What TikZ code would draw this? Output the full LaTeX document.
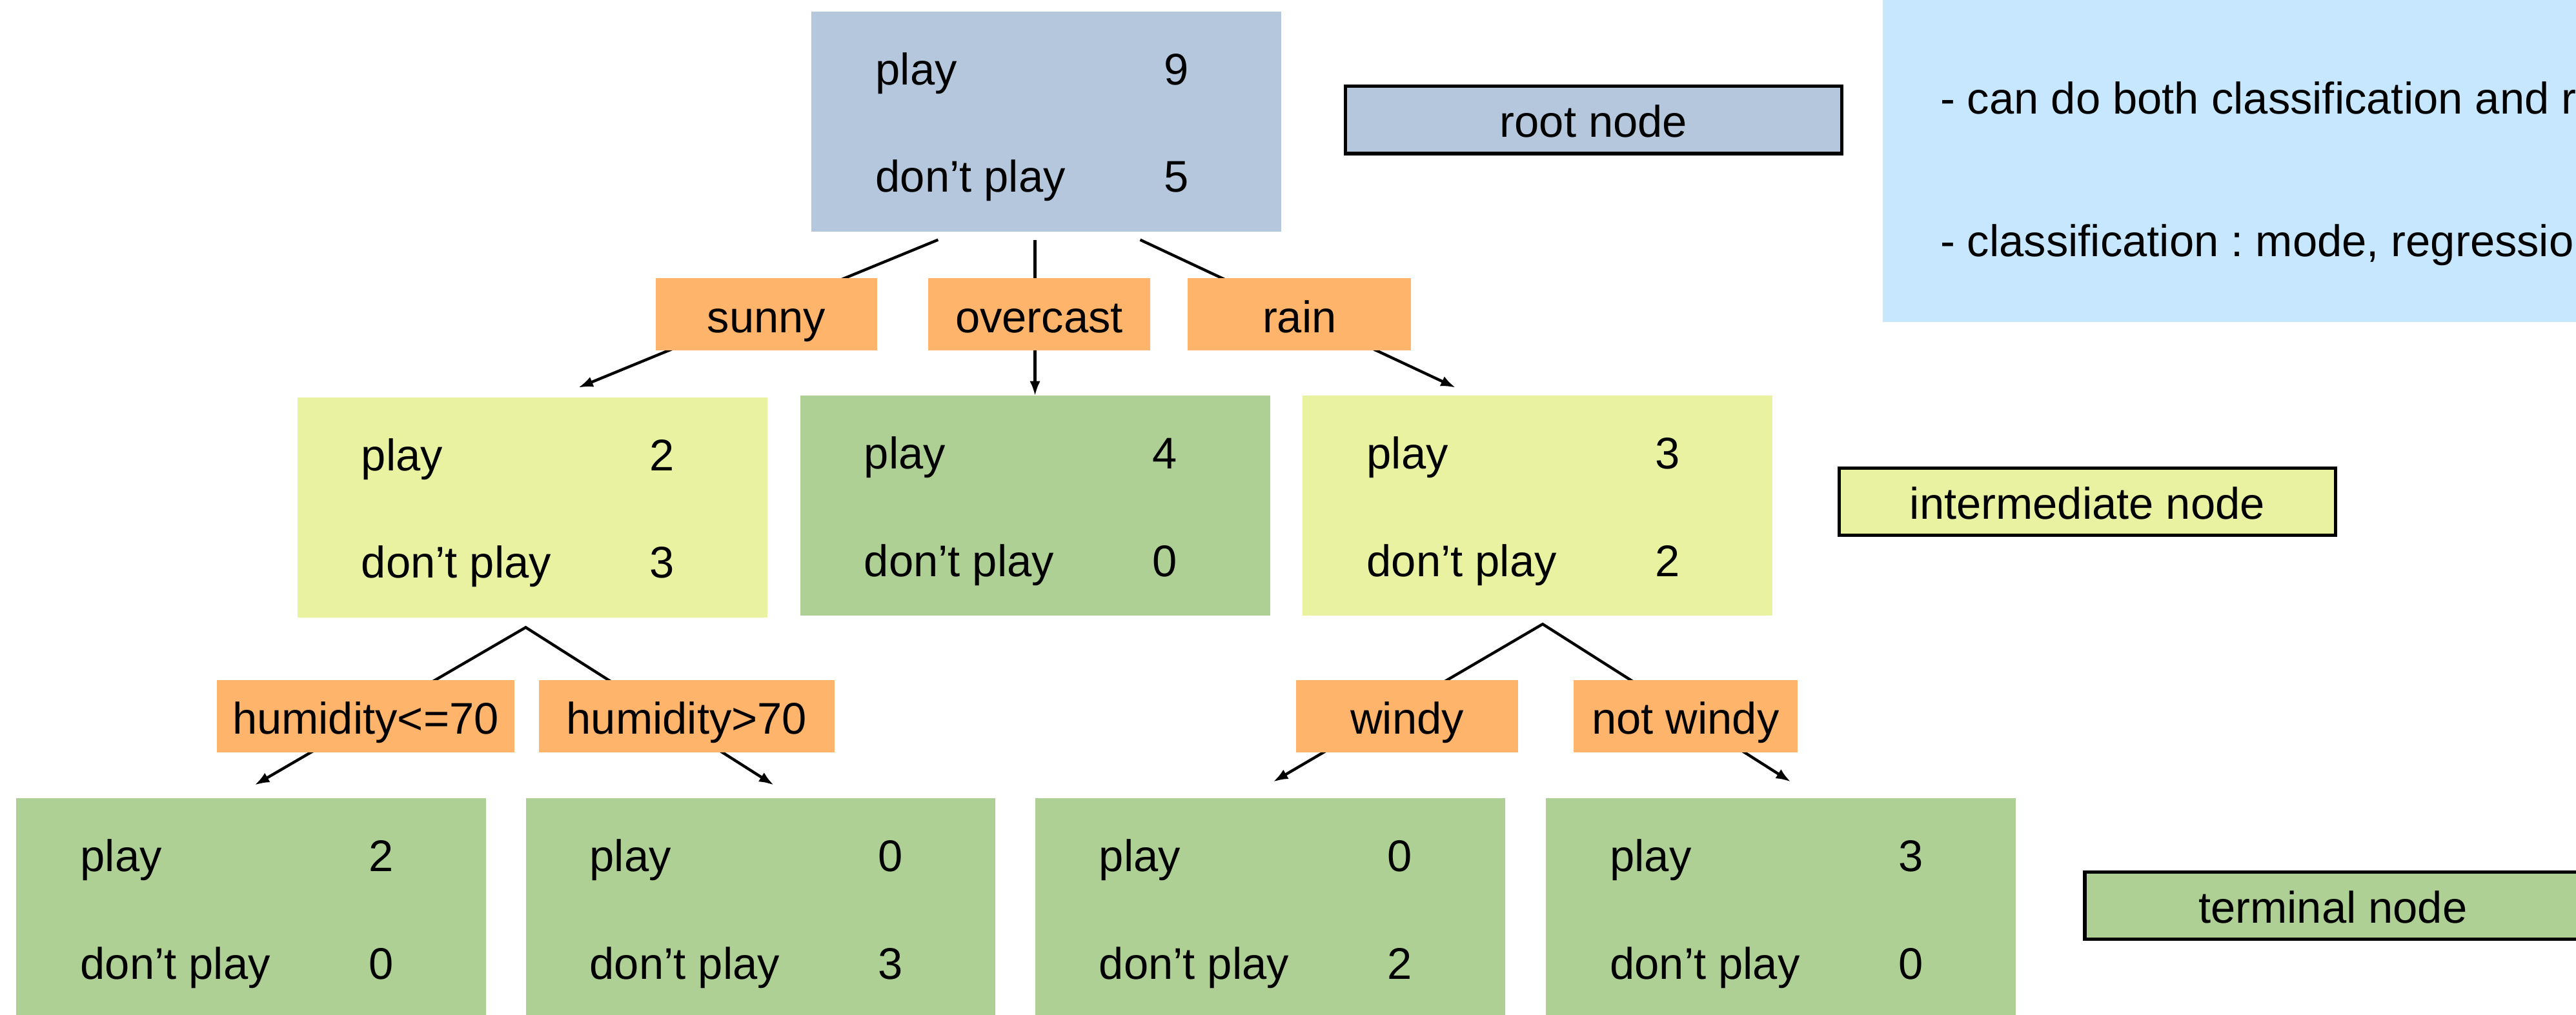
\documentclass[tikz,border=0pt]{standalone}
\usepackage{fontspec}
\setmainfont{Liberation Sans}
\usetikzlibrary{arrows.meta,calc}
\frenchspacing
\definecolor{rootc}{RGB}{181,199,220}
\definecolor{midc}{RGB}{232,242,161}
\definecolor{leafc}{RGB}{175,208,149}
\definecolor{lblc}{RGB}{255,180,107}
\definecolor{notec}{RGB}{198,231,253}
\newcommand\tcounts[3]{%
  \node[anchor=base west] (#1-pl) at ($(#1.north west)+(39,44.5)$) {play};
  \node[anchor=base] (#1-pn) at ($(#1.north west)+(222,44.5)$) {#2};
  \node[anchor=base west] (#1-dl) at ($(#1.north west)+(39,110)$) {don’t play};
  \node[anchor=base] (#1-dn) at ($(#1.north west)+(222,110)$) {#3};
}
\begin{document}
\begin{tikzpicture}[x=1pt,y=-1pt,
  every node/.style={font=\fontsize{27}{32}\selectfont, inner sep=0pt, outer sep=0pt},
  tbox/.style={rectangle, minimum width=286pt, minimum height=134pt, anchor=north west},
  lbl/.style={rectangle, fill=lblc, minimum height=44pt, text height=22pt, text depth=0pt},
  legend/.style={rectangle, draw=black, line width=2pt, minimum width=302pt, minimum height=41pt, text height=21pt, text depth=0pt},
  conn/.style={line width=1.7pt, -{Latex[length=9pt,width=6.5pt]}},
  connb/.style={line width=1.7pt, {Latex[length=9pt,width=6.5pt]}-{Latex[length=9pt,width=6.5pt]}},
]
\useasboundingbox (0,0) rectangle (1568,618);
\clip (0,0) rectangle (1568,618);

% note box
\node[anchor=north west, fill=notec, minimum width=440pt, minimum height=197pt] (note) at (1146,-1) {};
\node[anchor=base west] (note1) at (1181,69.5) {- can do both classification and regression};
\node[anchor=base west] (note2) at (1181,156) {- classification : mode, regression};

% tree boxes
\node[tbox, fill=rootc] (root) at (494,7) {};
\node[tbox, fill=midc] (n1) at (181,242) {};
\node[tbox, fill=leafc] (n2) at (487,241) {};
\node[tbox, fill=midc] (n3) at (793,241) {};
\node[tbox, fill=leafc, minimum height=135pt] (t1) at (10,486) {};
\node[tbox, fill=leafc, minimum height=135pt] (t2) at (320,486) {};
\node[tbox, fill=leafc, minimum height=135pt] (t3) at (630,486) {};
\node[tbox, fill=leafc, minimum height=135pt] (t4) at (941,486) {};

\tcounts{root}{9}{5}
\tcounts{n1}{2}{3}
\tcounts{n2}{4}{0}
\tcounts{n3}{3}{2}
\tcounts{t1}{2}{0}
\tcounts{t2}{0}{3}
\tcounts{t3}{0}{2}
\tcounts{t4}{3}{0}

% connector end points
\coordinate (r-a) at ($(root.south west)+(77,5)$);
\coordinate (r-b) at ($(root.south west)+(136,5)$);
\coordinate (r-c) at ($(root.south west)+(200,5)$);
\coordinate (n1-in) at ($(n1.north west)+(171,-6)$);
\coordinate (n2-in) at ($(n2.north west)+(143,0)$);
\coordinate (n3-in) at ($(n3.north west)+(93,-5)$);
\coordinate (n1-apex) at ($(n1.south west)+(139,6)$);
\coordinate (n3-apex) at ($(n3.south west)+(146,5)$);
\coordinate (t1-in) at ($(t1.north west)+(145,-8)$);
\coordinate (t2-in) at ($(t2.north west)+(151,-8)$);
\coordinate (t3-in) at ($(t3.north west)+(145,-10)$);
\coordinate (t4-in) at ($(t4.north west)+(149,-10)$);

\draw[conn] (r-a) -- (n1-in);
\draw[conn] (r-b) -- (n2-in);
\draw[conn] (r-c) -- (n3-in);
\draw[connb] (t1-in) -- (n1-apex) -- (t2-in);
\draw[connb] (t3-in) -- (n3-apex) -- (t4-in);

% split labels
\node[lbl, minimum width=135pt] (sunny) at (466.5,191.5) {sunny};
\node[lbl, minimum width=135pt] (overcast) at (632.5,191.5) {overcast};
\node[lbl, minimum width=136pt] (rain) at (791,191.5) {rain};
\node[lbl, minimum width=181pt] (hle) at (222.5,436) {humidity<=70};
\node[lbl, minimum width=180pt] (hgt) at (418,436) {humidity>70};
\node[lbl, minimum width=135pt] (windy) at (856.5,436) {windy};
\node[lbl, minimum width=136pt] (nwindy) at (1026,436) {not windy};

% legend
\node[legend, fill=rootc] (lg-root) at (970,73) {root node};
\node[legend, fill=midc] (lg-mid) at (1270.5,305.5) {intermediate node};
\node[legend, fill=leafc] (lg-leaf) at (1420,551.5) {terminal node};
\end{tikzpicture}
\end{document}
